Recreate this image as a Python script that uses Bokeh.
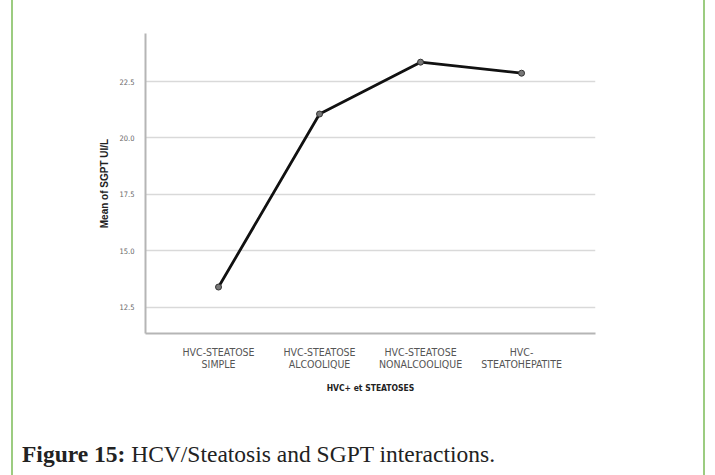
from bokeh.plotting import figure
from bokeh.models import FixedTicker, Range1d, Div
from bokeh.layouts import column
from bokeh.embed import file_html
from bokeh.resources import INLINE

# Mean SGPT (UI/L) for each HCV+ steatosis group
groups = ["HVC-STEATOSE\nSIMPLE", "HVC-STEATOSE\nALCOOLIQUE",
          "HVC-STEATOSE\nNONALCOOLIQUE", "HVC-\nSTEATOHEPATITE"]
group_pos = [1, 2, 3, 4]
mean_sgpt = [13.39, 21.06, 23.36, 22.87]
y_ticks = [12.5, 15.0, 17.5, 20.0, 22.5]

NARROW = "'DejaVu Sans Condensed', 'Liberation Sans', sans-serif"
PANEL_W = 690

p = figure(width=PANEL_W, height=434, output_backend="svg", toolbar_location=None,
           x_range=Range1d(0.277, 4.732), y_range=Range1d(11.33, 24.63),
           min_border_left=132, min_border_right=PANEL_W - 582,
           min_border_top=33, min_border_bottom=101)
p.outline_line_color = None
p.background_fill_color = "white"
p.border_fill_color = "white"

# grid
p.xgrid.grid_line_color = None
p.ygrid.grid_line_color = "#d9d9d9"
p.ygrid.grid_line_width = 1.5
p.ygrid.ticker = FixedTicker(ticks=y_ticks)

# y axis
p.yaxis.ticker = FixedTicker(ticks=y_ticks)
p.yaxis.major_label_overrides = {t: f"{t:.1f}" for t in y_ticks}
p.yaxis.axis_label = "Mean of SGPT UI/L"
p.yaxis.axis_label_text_font = "Liberation Sans"
p.yaxis.axis_label_text_font_style = "bold"
p.yaxis.axis_label_text_font_size = "10px"
p.yaxis.axis_label_text_color = "#222222"
p.yaxis.axis_label_standoff = 6
p.yaxis.major_label_text_font = NARROW
p.yaxis.major_label_text_font_size = "7.5px"
p.yaxis.major_label_text_color = "#666666"
p.yaxis.major_label_standoff = 5
p.yaxis.major_tick_line_color = None
p.yaxis.minor_tick_line_color = None
p.yaxis.axis_line_color = "#b5b5b5"
p.yaxis.axis_line_width = 2

# x axis
p.xaxis.ticker = FixedTicker(ticks=group_pos)
p.xaxis.major_label_overrides = {pos: lab for pos, lab in zip(group_pos, groups)}
p.xaxis.axis_label = "HVC+ et STEATOSES"
p.xaxis.axis_label_text_font = NARROW
p.xaxis.axis_label_text_font_style = "bold"
p.xaxis.axis_label_text_font_size = "8.5px"
p.xaxis.axis_label_text_color = "#222222"
p.xaxis.axis_label_standoff = 10
p.xaxis.major_label_text_font = NARROW
p.xaxis.major_label_text_font_size = "10.5px"
p.xaxis.major_label_text_color = "#555555"
p.xaxis.major_label_text_line_height = 1.05
p.xaxis.major_label_standoff = 6
p.xaxis.major_tick_line_color = None
p.xaxis.minor_tick_line_color = None
p.xaxis.axis_line_color = "#b5b5b5"
p.xaxis.axis_line_width = 2

# the means
p.line(group_pos, mean_sgpt, line_color="#111111", line_width=2.8)
p.scatter(group_pos, mean_sgpt, size=6, fill_color="#777777",
          line_color="#333333", line_width=1)

# caption under the chart
caption = Div(text="<b>Figure 15:</b> HCV/Steatosis and SGPT interactions.",
              width=PANEL_W, height=41,
              styles={"font-family": "'Liberation Serif', serif",
                      "font-size": "23.5px", "line-height": "1",
                      "color": "#222222",
                      "padding-left": "4px", "padding-top": "4px",
                      "white-space": "nowrap"})

# green rules on both sides of the figure panel
page = column(p, caption, spacing=0, width=PANEL_W,
              styles={"margin-left": "11px", "box-sizing": "content-box",
                      "border-left": "2px solid #9ccc80",
                      "border-right": "2px solid #9ccc80",
                      "background": "white"})

open("out.html", "w").write(file_html(page, INLINE))
